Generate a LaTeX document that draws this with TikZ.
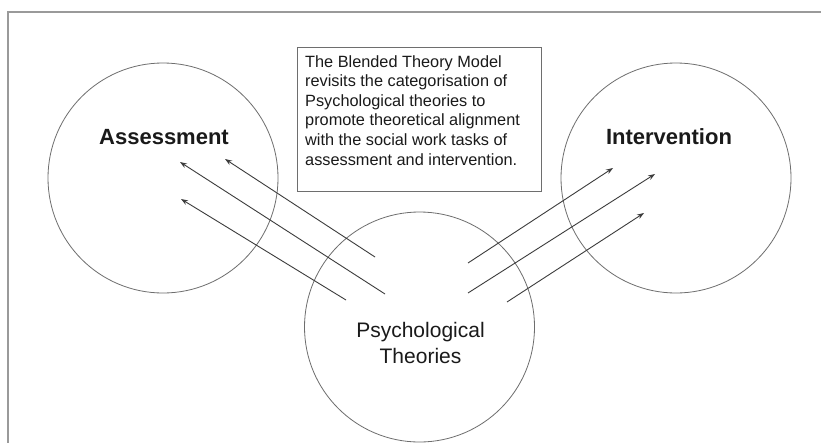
\documentclass[tikz,border=0pt]{standalone}
\usepackage{fontspec}
\setmainfont{Liberation Sans}
\usetikzlibrary{arrows.meta}
\definecolor{framegray}{HTML}{9A9A9A}
\definecolor{ringgray}{HTML}{6E6E6E}
\definecolor{arrowgray}{HTML}{3C3C3C}
\definecolor{inkcol}{HTML}{1A1A1A}
\begin{document}
\begin{tikzpicture}[x=1pt,y=-1pt,
  frameline/.style={draw=framegray,line width=1.6pt},
  ring/.style={circle,draw=ringgray,line width=0.8pt,minimum size=230pt,inner sep=0pt},
  notebox/.style={rectangle,draw=ringgray,line width=0.8pt,minimum width=244pt,minimum height=144pt,inner sep=0pt,anchor=north west},
  notetext/.style={anchor=north west,align=left,inner sep=0pt,text=inkcol,
     font=\fontsize{16.3pt}{19.6pt}\selectfont},
  headlabel/.style={anchor=base,inner sep=0pt,text=inkcol,font=\fontsize{22pt}{26pt}\selectfont\bfseries},
  centerlabel/.style={anchor=base,align=center,inner sep=0pt,text=inkcol,font=\fontsize{21pt}{26pt}\selectfont},
  link/.style={draw=arrowgray,line width=0.9pt,-{Stealth[length=7pt,width=5pt]}}
]
\useasboundingbox (0,0) rectangle (821,442);
\fill[white] (0,0) rectangle (821,442);
\draw[frameline] (8,460) -- (8,12) -- (840,12);

% circles
\node[ring] (assess) at (163,178) {};
\node[ring] (interv) at (676,178) {};
\node[ring] (psych) at (419.5,327) {};

% labels
\node[headlabel] (assesslabel) at (164,144) {Assessment};
\node[headlabel] (intervlabel) at (669,144) {Intervention};
\node[centerlabel] (psychlabel) at (420.5,363) {Psychological\\Theories};

% note box
\node[notebox] (note) at (297,47) {};
\node[notetext] (notetxt) at (305,55) {The Blended Theory Model\\revisits the categorisation of\\Psychological theories to\\promote theoretical alignment\\with the social work tasks of\\assessment and intervention.};

% arrow end points
\coordinate (a1s) at (375,257); \coordinate (a1e) at (225,159);
\coordinate (a2s) at (385,294); \coordinate (a2e) at (180,162);
\coordinate (a3s) at (346,300); \coordinate (a3e) at (181,199);
\coordinate (b1s) at (468,263); \coordinate (b1e) at (613,168);
\coordinate (b2s) at (468,293); \coordinate (b2e) at (655,174);
\coordinate (b3s) at (507,302); \coordinate (b3e) at (644,213);

\draw[link] (a1s) -- (a1e);
\draw[link] (a2s) -- (a2e);
\draw[link] (a3s) -- (a3e);
\draw[link] (b1s) -- (b1e);
\draw[link] (b2s) -- (b2e);
\draw[link] (b3s) -- (b3e);
\end{tikzpicture}
\end{document}
